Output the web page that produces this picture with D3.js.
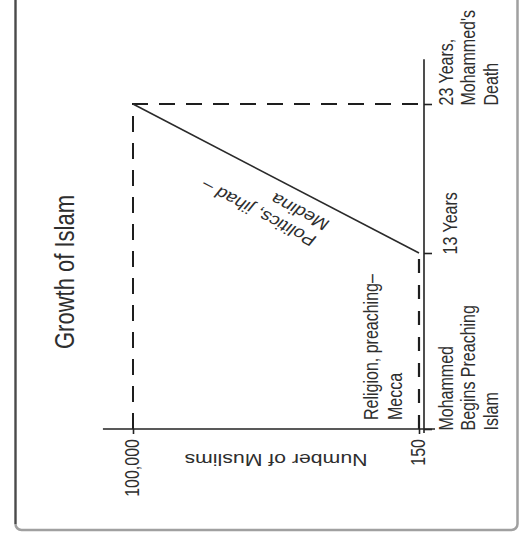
<!DOCTYPE html>
<html>
<head>
<meta charset="utf-8">
<script src="https://cdn.jsdelivr.net/npm/d3@7"></script>
<style>
    html, body { margin: 0; padding: 0; background: #fff; }
    svg { display: block; }
    text { font-family: 'Liberation Sans', Arial, sans-serif; fill: #2e2e2e; }
</style>
</head>
<body>
<div id="chart"></div>
<script>
// schematic "Growth of Islam" chart, drawn turned on its side like the scan
const yearTicks = [0, 13, 23];
const yearLabels = [
    ['Mohammed', 'Begins Preaching', 'Islam'],
    ['13 Years'],
    ['23 Years,', "Mohammed's", 'Death']
];
const muslimTicks = [150, 100000];
const growthYears = [0, 13, 23];
const growthMuslims = [150, 150, 100000];
const meccaLabel = ['Religion, preaching\u2013', 'Mecca'];
const medinaLabel = ['Politics, jihad \u2013', 'Medina'];
const titleText = 'Growth of Islam';
const yTitle = 'Number of Muslims';

const w = 521, h = 544;
const k = 1.25; // lettering in the scan is stretched sideways
const lineGap = 18;

const svg = d3.select('#chart')
    .append('svg')
    .attr('width', w)
    .attr('height', h);

// time runs upward, head-count runs leftward (the page is turned)
const yScale = d3.scaleLinear()
    .domain([0, 13, 23])
    .range([429, 253, 104]);
const xScale = d3.scaleLinear()
    .domain([0, 150, 100000])
    .range([424, 419, 133]);

// frame
svg.append('rect')
    .attr('x', 15.5)
    .attr('y', -20)
    .attr('width', 502)
    .attr('height', 550)
    .attr('rx', 6)
    .attr('fill', 'none')
    .attr('stroke', '#a0a0a0')
    .attr('stroke-width', 2.5);
svg.append('line')
    .attr('x1', 15.5).attr('x2', 15.5)
    .attr('y1', 0).attr('y2', 524)
    .attr('stroke', '#4a4a4a')
    .attr('stroke-width', 2);

// title
svg.append('text')
    .attr('transform', `translate(74, 272) scale(${k},1) rotate(-90)`)
    .attr('text-anchor', 'middle')
    .style('font-size', '22px')
    .text(titleText);

const pts = growthYears.map((d, i) => [d, growthMuslims[i]]);
const line = d3.line()
    .x(d => xScale(d[1]))
    .y(d => yScale(d[0]));

// dashed guides to the end point
svg.append('path')
    .datum([[0, growthMuslims[2]], [growthYears[2], growthMuslims[2]], [growthYears[2], 0]])
    .attr('fill', 'none')
    .attr('stroke', '#1e1e1e')
    .attr('stroke-width', 2)
    .attr('stroke-dasharray', '16,11')
    .attr('d', line);

// Mecca years: flat, drawn dashed in the scan
svg.append('path')
    .datum(pts.slice(0, 2))
    .attr('fill', 'none')
    .attr('stroke', '#1e1e1e')
    .attr('stroke-width', 2.2)
    .attr('stroke-dasharray', '14,12')
    .attr('d', line);

// Medina years
svg.append('path')
    .datum(pts.slice(1))
    .attr('fill', 'none')
    .attr('stroke', '#2a2a2a')
    .attr('stroke-width', 1.6)
    .attr('d', line);

// axis lines, a bit longer than the data
svg.append('line')
    .attr('x1', xScale(110500)).attr('x2', xScale(-330))
    .attr('y1', yScale(0)).attr('y2', yScale(0))
    .attr('stroke', '#222').attr('stroke-width', 1.6);
svg.append('line')
    .attr('x1', xScale(0)).attr('x2', xScale(0))
    .attr('y1', yScale(-0.3)).attr('y2', yScale(26))
    .attr('stroke', '#222').attr('stroke-width', 1.6);

// head-count ticks
const xAxis = d3.axisBottom(xScale)
    .tickValues(muslimTicks)
    .tickSize(5)
    .tickFormat(d3.format(','));
const gx = svg.append('g')
    .attr('transform', `translate(0, ${yScale(0)})`)
    .attr('color', '#222')
    .call(xAxis);
gx.select('.domain').remove();
gx.selectAll('.tick line').attr('stroke-width', 1.6);
gx.selectAll('.tick text')
    .attr('y', null)
    .attr('dy', null)
    .attr('text-anchor', 'end')
    .attr('transform', `translate(5, 10) scale(${k},1) rotate(-90)`)
    .style('font-size', '16px')
    .attr('fill', '#2e2e2e');

// time ticks with multi-line labels
const yAxis = d3.axisRight(yScale)
    .tickValues(yearTicks)
    .tickSize(8)
    .tickFormat('');
const gy = svg.append('g')
    .attr('transform', `translate(${xScale(0)}, 0)`)
    .attr('color', '#222')
    .call(yAxis);
gy.select('.domain').remove();
gy.selectAll('.tick line').attr('stroke-width', 1.6);
gy.selectAll('.tick text').each(function(d, i) {
    const t = d3.select(this)
        .attr('x', null)
        .attr('dy', null)
        .attr('text-anchor', 'start')
        .attr('transform', `translate(${33 - (yearLabels[i].length - 1) * 2}, 1) scale(${k},1) rotate(-90)`)
        .style('font-size', '16px')
        .attr('fill', '#2e2e2e');
    yearLabels[i].forEach((s, j) => {
        t.append('tspan')
            .attr('x', 0)
            .attr('dy', j == 0 ? 0 : lineGap)
            .text(s);
    });
});

// y title, upside down after the turn
svg.append('text')
    .attr('transform', `translate(${(xScale(100000) + xScale(150)) / 2}, ${yScale(0) + 25}) scale(${k},1) rotate(180)`)
    .attr('text-anchor', 'middle')
    .style('font-size', '17px')
    .text(yTitle);

// Mecca phase label
const mecca = svg.append('text')
    .attr('transform', `translate(${xScale(150) - 41}, ${yScale(0) - 9}) scale(${k},1) rotate(-90)`)
    .style('font-size', '16px');
meccaLabel.forEach((s, j) => {
    mecca.append('tspan').attr('x', 0).attr('dy', j == 0 ? 0 : lineGap + 1).text(s);
});

// Medina phase label, along the rising line
const p0 = [xScale(growthMuslims[2]), yScale(growthYears[2])];
const p1 = [xScale(growthMuslims[1]), yScale(growthYears[1])];
const dx = p1[0] - p0[0], dy = p1[1] - p0[1];
const len = Math.sqrt(dx * dx + dy * dy);
const t = 0.70;
const ax = p0[0] + dx * t - dy / len * 33;
const ay = p0[1] + dy * t + dx / len * 33;
const ang = Math.atan2(dy, dx / k) * 180 / Math.PI + 180;
const medina = svg.append('text')
    .attr('transform', `translate(${ax}, ${ay}) scale(${k},1) rotate(${ang})`)
    .style('font-size', '16px');
medinaLabel.forEach((s, j) => {
    medina.append('tspan').attr('x', 0).attr('dy', j == 0 ? 0 : lineGap + 1).text(s);
});
</script>
</body>
</html>
